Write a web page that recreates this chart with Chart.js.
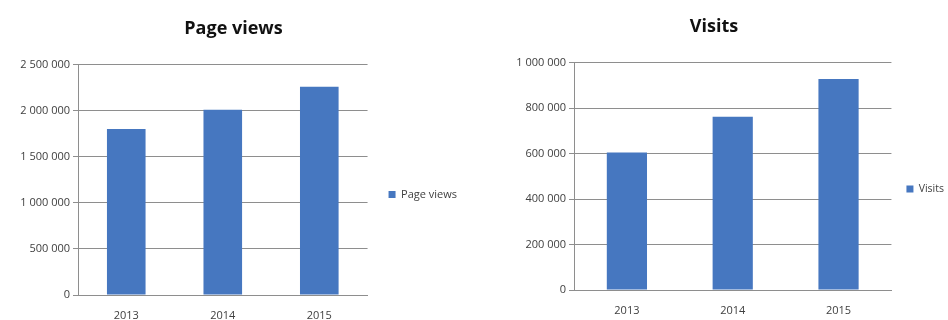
<!DOCTYPE html>
<html>
<head>
<meta charset="utf-8">
<script src="https://cdn.jsdelivr.net/npm/chart.js@4/dist/chart.umd.min.js"></script>
<style>
  html, body { margin: 0; padding: 0; background: #ffffff; overflow: hidden; width: 948px; height: 320px; }
  .wrap { position: absolute; top: 0; height: 320px; }
  #w1 { left: 0; width: 474px; }
  #w2 { left: 474px; width: 488px; }
</style>
</head>
<body>
<div class="wrap" id="w1"><canvas id="c1" width="474" height="320"></canvas></div>
<div class="wrap" id="w2"><canvas id="c2" width="488" height="320"></canvas></div>
<script>
// ---- data ----
const years = ['2013', '2014', '2015'];
const pageViews = [1800000, 2010000, 2260000];
const visits = [605000, 762000, 928000];
const pageViewsAxis = { max: 2500000, step: 500000 };
const visitsAxis = { max: 1000000, step: 200000 };
const titles = ['Page views', 'Visits'];

const BAR = '#4677c0';
const GRID = '#8e8e8e';
const TXT = '#404040';
const FONT = "'Open Sans', 'Liberation Sans', sans-serif";

function fmt(v) {
  return String(v).replace(/\B(?=(\d{3})+(?!\d))/g, ' ');
}

function makeChart(id, title, label, values, axis, L) {
  return new Chart(document.getElementById(id), {
    type: 'bar',
    data: {
      labels: years,
      datasets: [{
        label: label,
        data: values,
        backgroundColor: BAR,
        borderWidth: 0,
        barPercentage: L.bar,
        categoryPercentage: 1
      }]
    },
    options: {
      responsive: false,
      animation: false,
      layout: { padding: { left: 0, right: L.padRight, top: 0, bottom: 0 } },
      plugins: {
        tooltip: { enabled: false },
        title: {
          display: true,
          text: title,
          color: '#111111',
          font: { family: FONT, size: 18, weight: 'bold' },
          padding: { top: L.titleTop, bottom: L.titleBottom }
        },
        legend: {
          position: 'right',
          fullSize: false,
          title: { display: true, text: ' ', font: { size: 1 }, padding: L.legShift },
          labels: {
            boxWidth: 7,
            boxHeight: 7,
            padding: L.legPad,
            color: TXT,
            font: { family: FONT, size: L.legFont }
          }
        }
      },
      scales: {
        x: {
          grid: { display: false },
          border: { display: true, color: GRID, width: 1 },
          ticks: { color: TXT, font: { family: FONT, size: 11 }, padding: 6 },
          afterFit: s => { s.height = L.xHeight; }
        },
        y: {
          min: 0,
          max: axis.max,
          ticks: {
            stepSize: axis.step,
            color: TXT,
            font: { family: FONT, size: 11 },
            padding: 3,
            callback: v => fmt(v)
          },
          grid: { color: GRID, lineWidth: 1, tickLength: 5, drawTicks: true },
          border: { display: true, color: GRID, width: 1 },
          afterFit: s => { s.width = L.yWidth; }
        }
      }
    }
  });
}

makeChart('c1', titles[0], 'Page views', pageViews, pageViewsAxis,
  { bar: 0.4, padRight: 7, titleTop: 18, titleBottom: 25, xHeight: 25, yWidth: 78,
    legShift: 14, legPad: 21, legFont: 11 });
makeChart('c2', titles[1], 'Visits', visits, visitsAxis,
  { bar: 0.38, padRight: 8, titleTop: 16, titleBottom: 25, xHeight: 30, yWidth: 100,
    legShift: 12, legPad: 15, legFont: 10.5 });
</script>
</body>
</html>
